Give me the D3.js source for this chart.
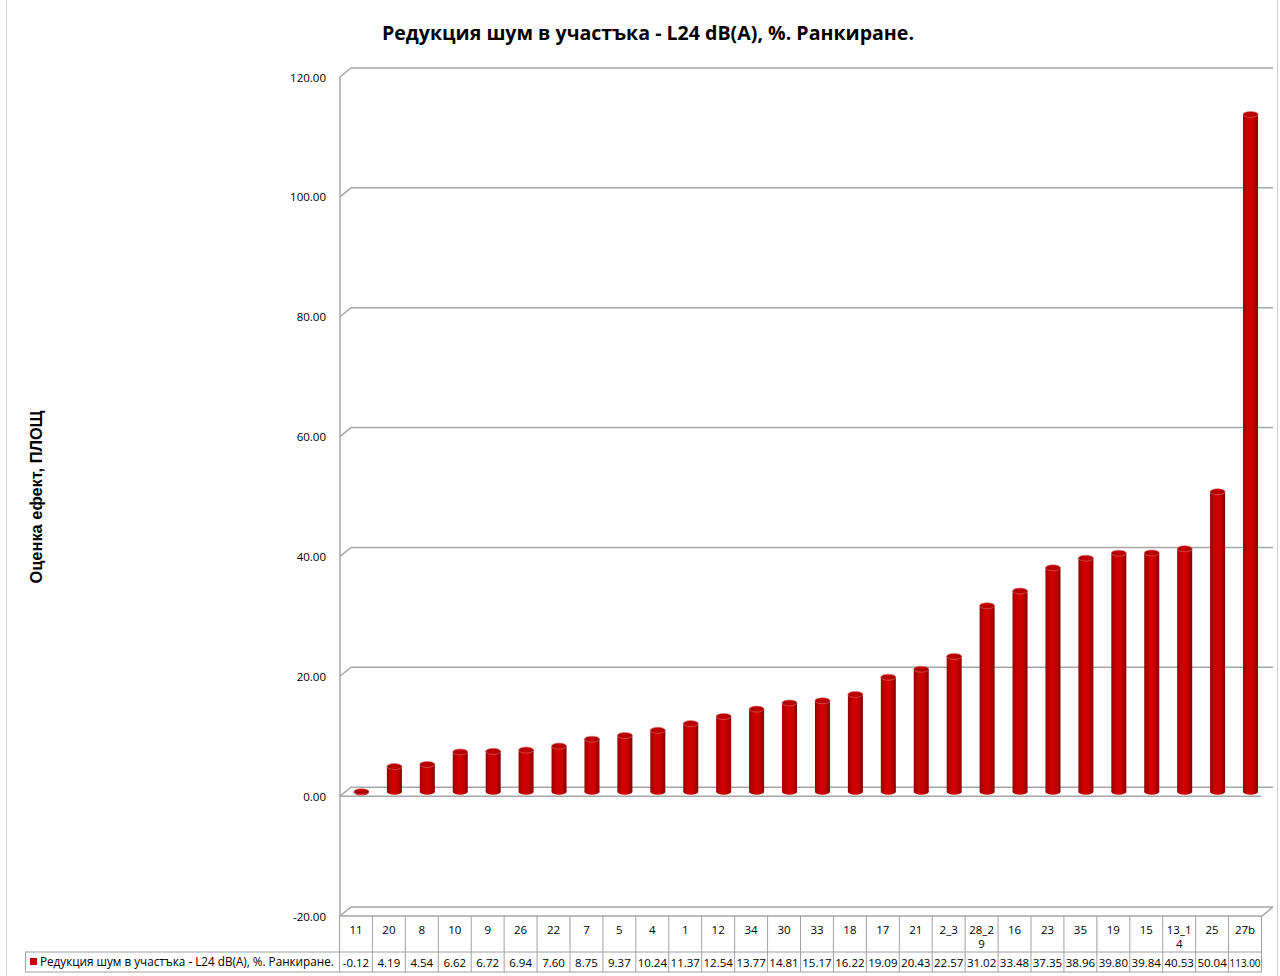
<!DOCTYPE html>
<html><head><meta charset="utf-8">
<script src="https://cdn.jsdelivr.net/npm/d3@7"></script>
<style>
html,body{margin:0;padding:0;background:#fff;}
svg{display:block;}
text{font-family:"Open Sans","Noto Sans",sans-serif;fill:#000;}
</style></head>
<body>
<script>
const categories = ["11","20","8","10","9","26","22","7","5","4","1","12","34","30","33","18","17","21","2_3","28_29","16","23","35","19","15","13_14","25","27b"];
const catLines = [["11"],["20"],["8"],["10"],["9"],["26"],["22"],["7"],["5"],["4"],["1"],["12"],["34"],["30"],["33"],["18"],["17"],["21"],["2_3"],["28_2","9"],["16"],["23"],["35"],["19"],["15"],["13_1","4"],["25"],["27b"]];
const values = [-0.12,4.19,4.54,6.62,6.72,6.94,7.60,8.75,9.37,10.24,11.37,12.54,13.77,14.81,15.17,16.22,19.09,20.43,22.57,31.02,33.48,37.35,38.96,39.80,39.84,40.53,50.04,113.00];
const yTicks = [-20,0,20,40,60,80,100,120];
const seriesName = "Редукция шум в участъка - L24 dB(A), %. Ранкиране.";
const chartTitle = "Редукция шум в участъка - L24 dB(A), %. Ранкиране.";
const yTitle = "Оценка ефект, ПЛОЩ";

const fmt = d3.formatLocale({decimal:".", thousands:",", grouping:[3], currency:["",""], minus:"-"}).format(".2f");

const W = 1280, H = 976;
const svg = d3.select("body").append("svg").attr("width", W).attr("height", H);

const DX = 11, DY = -9;
const x = d3.scaleBand().domain(categories).range([339.5, 1261.5]).padding(0);
const y = d3.scaleLinear().domain([-20, 120]).range([916, 77]);
const gridCol = "#a6a6a6";

const defs = svg.append("defs");
const grad = defs.append("linearGradient").attr("id","cyl").attr("x1","0").attr("x2","1").attr("y1","0").attr("y2","0");
[[0,"#8a0000"],[0.12,"#b00000"],[0.4,"#d20000"],[0.65,"#cc0000"],[0.88,"#a40000"],[1,"#7a0000"]].forEach(s=>grad.append("stop").attr("offset",s[0]).attr("stop-color",s[1]));
const gradTop = defs.append("linearGradient").attr("id","cyltop").attr("x1","0").attr("x2","1").attr("y1","0").attr("y2","0");
[[0,"#9c0000"],[0.5,"#c40000"],[1,"#9c0000"]].forEach(s=>gradTop.append("stop").attr("offset",s[0]).attr("stop-color",s[1]));

svg.append("rect").attr("x",6.5).attr("y",-1).attr("width",1271).attr("height",H+2).attr("fill","none").attr("stroke","#d0d0d0").attr("stroke-width",1);

const g = svg.append("g");
yTicks.forEach(t => {
  const yf = y(t);
  g.append("path")
    .attr("d", `M340,${yf} L${340+DX},${yf+DY} L1273,${yf+DY}`)
    .attr("fill","none").attr("stroke",gridCol).attr("stroke-width",1.5);
});
g.append("line").attr("x1",340).attr("x2",1261).attr("y1",y(0)).attr("y2",y(0)).attr("stroke",gridCol).attr("stroke-width",1.5);
g.append("path").attr("d",`M340,${y(-20)} L1262,${y(-20)} L1273,${y(-20)+DY}`).attr("fill","none").attr("stroke",gridCol).attr("stroke-width",1.5);
g.append("line").attr("x1",340).attr("x2",340).attr("y1",y(120)).attr("y2",y(-20)).attr("stroke",gridCol).attr("stroke-width",1.5);

yTicks.forEach(t => {
  svg.append("text").attr("x",326).attr("y",y(t)+4.5).attr("text-anchor","end")
    .attr("font-size",11.5).text(fmt(t));
});

const bw = 15, ry = 3;
const bars = svg.append("g");
categories.forEach((c,i) => {
  const v = values[i];
  const cx = x(c) + x.bandwidth()/2 + 5.5;
  const yb = y(0) + DY/2;
  const yt = y(v) + DY/2;
  const top = Math.min(yb, yt), bot = Math.max(yb, yt);
  bars.append("ellipse").attr("cx",cx).attr("cy",bot).attr("rx",bw/2).attr("ry",ry).attr("fill","url(#cyl)");
  bars.append("rect").attr("x",cx-bw/2).attr("y",top).attr("width",bw).attr("height",bot-top).attr("fill","url(#cyl)");
  bars.append("ellipse").attr("cx",cx).attr("cy",top).attr("rx",bw/2).attr("ry",ry)
    .attr("fill","url(#cyltop)").attr("stroke","#e07070").attr("stroke-width",0.6);
});

const tbl = svg.append("g");
const tCol = "#a0a0a0";
const r1Top = y(-20), r1Bot = 952, r2Bot = 972;
categories.forEach((c,i) => {
  const x0 = x(c);
  tbl.append("line").attr("x1",x0).attr("x2",x0).attr("y1",r1Top).attr("y2",r2Bot).attr("stroke",tCol);
});
tbl.append("line").attr("x1",x.range()[1]).attr("x2",x.range()[1]).attr("y1",r1Top).attr("y2",r2Bot).attr("stroke",tCol);
tbl.append("line").attr("x1",25).attr("x2",x.range()[1]).attr("y1",r1Bot).attr("y2",r1Bot).attr("stroke",tCol);
tbl.append("line").attr("x1",25).attr("x2",x.range()[1]).attr("y1",r2Bot).attr("y2",r2Bot).attr("stroke",tCol);
tbl.append("line").attr("x1",25.5).attr("x2",25.5).attr("y1",r1Bot).attr("y2",r2Bot).attr("stroke",tCol);

categories.forEach((c,i) => {
  const cx = x(c) + x.bandwidth()/2;
  const lines = catLines[i];
  lines.forEach((ln,k) => {
    tbl.append("text").attr("x",cx).attr("y",934 + k*14).attr("text-anchor","middle")
      .attr("font-size",11.5).text(ln);
  });
  const tx = tbl.append("text").attr("x",cx).attr("y",967).attr("text-anchor","middle")
    .attr("font-size",11.5).text(fmt(values[i]));
  const w = tx.node().getComputedTextLength();
  if (w > 31) tx.attr("textLength",31).attr("lengthAdjust","spacingAndGlyphs");
});

tbl.append("rect").attr("x",30).attr("y",958).attr("width",7).attr("height",7).attr("fill","#c00000");
const lt = tbl.append("text").attr("x",40).attr("y",966).attr("font-size",11).text(seriesName);
function fit(sel, target){
  let fs = +sel.attr("font-size");
  const w = sel.node().getComputedTextLength();
  sel.attr("font-size", (fs*target/w).toFixed(2));
}
fit(lt, 294);

const tt = svg.append("text").attr("x",648).attr("y",40).attr("text-anchor","middle")
  .attr("font-size",20).attr("font-weight","bold").text(chartTitle);
fit(tt, 532);

const yt = svg.append("text").attr("transform","translate(42,497) rotate(-90)").attr("text-anchor","middle")
  .attr("font-size",14).attr("font-weight","bold")
  .style("font-family","'Liberation Sans',Arial,sans-serif").text(yTitle);
fit(yt, 173);
</script>
</body></html>
